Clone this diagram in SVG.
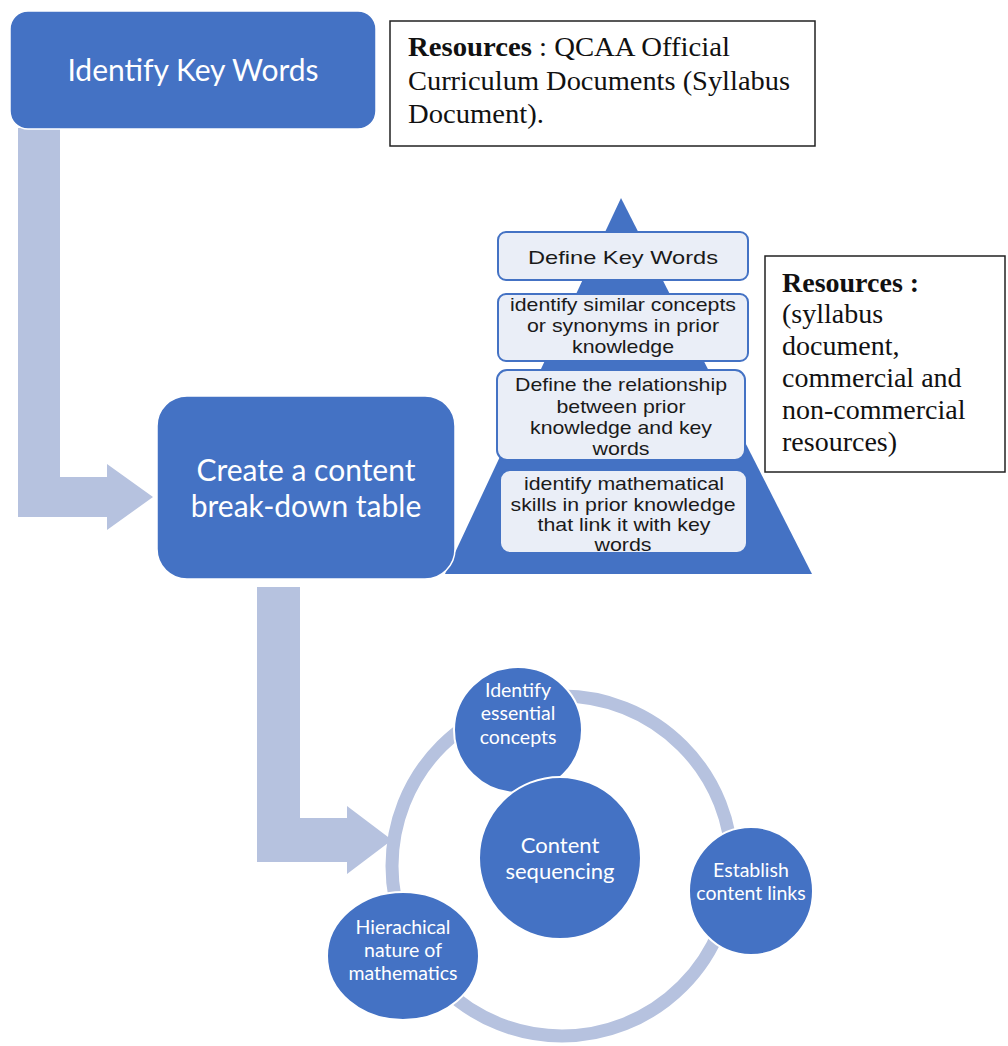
<svg xmlns="http://www.w3.org/2000/svg" width="1008" height="1046" viewBox="0 0 1008 1046">
<style>
.blue{fill:#4472C4;}
.bluebox{fill:#4472C4;stroke:#ffffff;stroke-width:1.5;}
.arrow{fill:#B6C2DF;}
.ring{fill:none;stroke:#B6C2DF;stroke-width:13;}
.pbox{fill:#EAEEF7;stroke:#4472C4;stroke-width:2;}
.res{fill:#ffffff;stroke:#222222;stroke-width:1.5;}
.wt{font-family:Lato,"Open Sans","DejaVu Sans",sans-serif;fill:#ffffff;text-anchor:middle;}
.pt{font-family:"Liberation Sans",Arial,sans-serif;fill:#1a1a1a;text-anchor:middle;font-size:19px;}
.rt{font-family:"Liberation Serif","Times New Roman",serif;fill:#111111;font-size:28px;}
.circ{fill:#4472C4;stroke:#ffffff;stroke-width:2;}
</style>

<g id="connectors">
  <path class="arrow" d="M18,128 H60 V477 H107 V464 L153,497 L107,530 V517 H18 Z"/>
  <path class="arrow" d="M257,587 H300 V818 H347 V806 L392,840 L347,874 V862 H257 Z"/>
  <circle class="ring" cx="562" cy="866" r="170"/>
</g>

<g id="node-identify-key-words">
  <rect class="bluebox" x="10" y="11" width="366" height="118" rx="18"/>
  <text class="wt" x="193" y="81" font-size="30">Identify Key Words</text>
</g>

<g id="node-resources-1">
  <rect class="res" x="390" y="21" width="425" height="125"/>
  <text class="rt" x="408" y="56" textLength="322" lengthAdjust="spacingAndGlyphs"><tspan font-weight="bold">Resources</tspan> : QCAA Official</text>
  <text class="rt" x="408" y="90" textLength="382" lengthAdjust="spacingAndGlyphs">Curriculum Documents (Syllabus</text>
  <text class="rt" x="408" y="123" textLength="136" lengthAdjust="spacingAndGlyphs">Document).</text>
</g>

<g id="node-pyramid">
  <polygon class="blue" points="621,198 812,574 445,574"/>
  <rect class="pbox" x="498" y="232" width="250" height="48" rx="8"/>
  <text class="pt" x="623" y="264" font-size="21" textLength="190" lengthAdjust="spacingAndGlyphs">Define Key Words</text>
  <rect class="pbox" x="498" y="294" width="250" height="67" rx="8"/>
  <text class="pt" x="623" y="311" textLength="226" lengthAdjust="spacingAndGlyphs">identify similar concepts</text>
  <text class="pt" x="623" y="332" textLength="192" lengthAdjust="spacingAndGlyphs">or synonyms in prior</text>
  <text class="pt" x="623" y="353" textLength="102" lengthAdjust="spacingAndGlyphs">knowledge</text>
  <rect class="pbox" x="497" y="370" width="248" height="90" rx="10"/>
  <text class="pt" x="621" y="391" textLength="212" lengthAdjust="spacingAndGlyphs">Define the relationship</text>
  <text class="pt" x="621" y="413" textLength="129" lengthAdjust="spacingAndGlyphs">between prior</text>
  <text class="pt" x="621" y="434" textLength="182" lengthAdjust="spacingAndGlyphs">knowledge and key</text>
  <text class="pt" x="621" y="455" textLength="57" lengthAdjust="spacingAndGlyphs">words</text>
  <rect class="pbox" x="500" y="470" width="247" height="83" rx="10"/>
  <text class="pt" x="624" y="490" textLength="200" lengthAdjust="spacingAndGlyphs">identify mathematical</text>
  <text class="pt" x="623" y="511" textLength="225" lengthAdjust="spacingAndGlyphs">skills in prior knowledge</text>
  <text class="pt" x="624" y="531" textLength="173" lengthAdjust="spacingAndGlyphs">that link it with key</text>
  <text class="pt" x="623" y="551" textLength="57" lengthAdjust="spacingAndGlyphs">words</text>
</g>

<g id="node-content-breakdown">
  <rect class="bluebox" x="157" y="396" width="298" height="183" rx="30"/>
  <text class="wt" x="306" y="481" font-size="30">Create a content</text>
  <text class="wt" x="306" y="517" font-size="30">break-down table</text>
</g>

<g id="node-resources-2">
  <rect class="res" x="765" y="256" width="240" height="216"/>
  <text class="rt" x="782" y="292" font-weight="bold">Resources :</text>
  <text class="rt" x="782" y="323">(syllabus</text>
  <text class="rt" x="782" y="355">document,</text>
  <text class="rt" x="782" y="387">commercial and</text>
  <text class="rt" x="782" y="419">non-commercial</text>
  <text class="rt" x="782" y="451">resources)</text>
</g>

<g id="node-essential-concepts">
  <ellipse class="circ" cx="518" cy="730" rx="64" ry="63"/>
  <text class="wt" x="518" y="697" font-size="19.5">Identify</text>
  <text class="wt" x="518" y="720" font-size="19.5">essential</text>
  <text class="wt" x="518" y="744" font-size="19.5">concepts</text>
</g>

<g id="node-content-sequencing">
  <circle class="circ" cx="560" cy="858" r="81"/>
  <text class="wt" x="560" y="853" font-size="22">Content</text>
  <text class="wt" x="560" y="879" font-size="22">sequencing</text>
</g>

<g id="node-content-links">
  <ellipse class="circ" cx="751" cy="891" rx="62" ry="64"/>
  <text class="wt" x="751" y="877" font-size="19.5">Establish</text>
  <text class="wt" x="751" y="900" font-size="19.5">content links</text>
</g>

<g id="node-hierarchical">
  <ellipse class="circ" cx="403" cy="956" rx="76" ry="64"/>
  <text class="wt" x="403" y="934" font-size="19.5">Hierachical</text>
  <text class="wt" x="403" y="957" font-size="19.5">nature of</text>
  <text class="wt" x="403" y="980" font-size="19.5">mathematics</text>
</g>
</svg>
